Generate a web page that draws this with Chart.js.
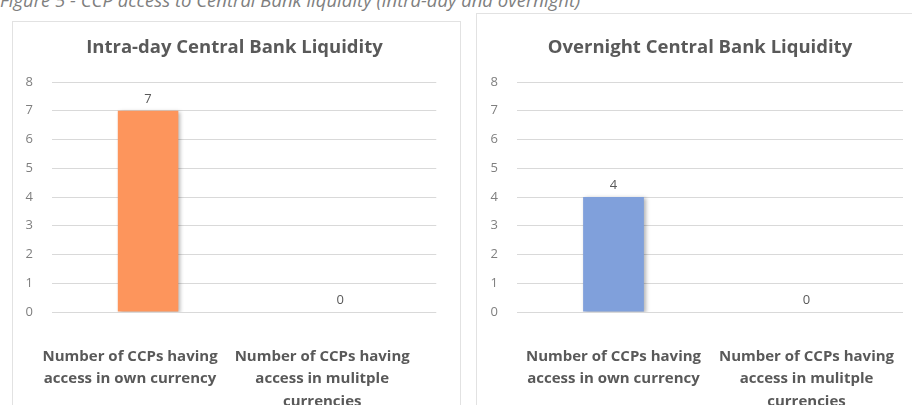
<!DOCTYPE html>
<html>
<head>
<meta charset="utf-8">
<script src="https://cdn.jsdelivr.net/npm/chart.js@4.4.1/dist/chart.umd.min.js"></script>
<style>
    body { margin: 0; background: #fff; width: 912px; height: 405px; overflow: hidden; position: relative; font-family: "Open Sans", sans-serif; }
    .caption { position: absolute; left: 0; top: -13px; font-style: italic; font-size: 18.5px; line-height: 25px; color: #7f7f7f; white-space: nowrap; }
    .panel { position: absolute; border: 1px solid #e2e2e2; background: #fff; }
    #leftPanel { left: 12px; top: 21px; width: 447px; height: 400px; }
    #rightPanel { left: 476px; top: 13px; width: 440px; height: 400px; }
    canvas { position: absolute; }
    #intradayChart { left: 12px; top: 18px; }
    #overnightChart { left: 475px; top: 18px; }
</style>
</head>
<body>
<div class="caption">Figure 5 - CCP access to Central Bank liquidity (intra-day and overnight)</div>
<div class="panel" id="leftPanel"></div>
<div class="panel" id="rightPanel"></div>
<canvas id="intradayChart" width="445" height="387"></canvas>
<canvas id="overnightChart" width="450" height="387"></canvas>
<script>
// categories shared by both panels
const categories = [
    ['Number of CCPs having', 'access in own currency'],
    ['Number of CCPs having', 'access in mulitple', 'currencies']
];
const intradayValues = [7, 0];
const overnightValues = [4, 0];
const yTicks = [0, 1, 2, 3, 4, 5, 6, 7, 8];

const textGrey = '#595959';
const tickGrey = '#7f7f7f';
const gridGrey = '#d9d9d9';

// draws the value above each bar
const valueLabels = {
    id: 'valueLabels',
    afterDatasetsDraw(chart) {
        const ctx = chart.ctx;
        const meta = chart.getDatasetMeta(0);
        ctx.save();
        ctx.font = '13px "Open Sans", sans-serif';
        ctx.fillStyle = textGrey;
        ctx.textAlign = 'center';
        ctx.textBaseline = 'bottom';
        meta.data.forEach((bar, i) => {
            ctx.fillText(chart.data.datasets[0].data[i], bar.x, bar.y - 5);
        });
        ctx.restore();
    }
};

// soft shadow behind the bars, like the original
const barShadow = {
    id: 'barShadow',
    beforeDatasetDraw(chart) {
        const ctx = chart.ctx;
        ctx.save();
        ctx.shadowColor = 'rgba(0,0,0,0.3)';
        ctx.shadowBlur = 4;
        ctx.shadowOffsetX = 2;
        ctx.shadowOffsetY = 1;
    },
    afterDatasetDraw(chart) {
        chart.ctx.restore();
    }
};

// rightGap: empty space right of the plot (keeps the title centred like the original)
function makeChart(id, title, values, color, rightGap, yWidth, labelShift) {
    return new Chart(document.getElementById(id), {
        type: 'bar',
        data: {
            labels: categories,
            datasets: [{
                data: values,
                backgroundColor: color,
                borderWidth: 0,
                barPercentage: 0.315,
                categoryPercentage: 1
            }]
        },
        options: {
            responsive: false,
            animation: false,
            layout: { padding: 0 },
            plugins: {
                legend: { display: false },
                tooltip: { enabled: false },
                title: {
                    display: true,
                    text: title,
                    color: textGrey,
                    font: { family: '"Open Sans", sans-serif', size: 18.5, weight: 'bold', lineHeight: 1.2 },
                    padding: { top: 19, bottom: 22.8 }
                }
            },
            scales: {
                x: {
                    grid: { display: false },
                    border: { display: false },
                    ticks: {
                        color: textGrey,
                        autoSkip: false,
                        maxRotation: 0,
                        padding: 25,
                        labelOffset: labelShift,
                        font: { family: '"Open Sans", sans-serif', size: 15, weight: 'bold', lineHeight: 1.5 }
                    },
                    afterFit(scale) { scale.height = 93; }
                },
                y: {
                    min: 0,
                    max: 8,
                    afterBuildTicks(scale) { scale.ticks = yTicks.map(v => ({ value: v })); },
                    grid: { color: gridGrey, drawTicks: false },
                    border: { display: false },
                    ticks: {
                        color: tickGrey,
                        padding: 19,
                        font: { family: '"Open Sans", sans-serif', size: 13 }
                    },
                    afterFit(scale) { scale.width = yWidth; }
                },
                gap: {
                    position: 'right',
                    min: 0,
                    max: 8,
                    grid: { display: false },
                    border: { display: false },
                    ticks: { display: false },
                    afterFit(scale) { scale.width = rightGap; }
                }
            }
        },
        plugins: [barShadow, valueLabels]
    });
}

makeChart('intradayChart', 'Intra-day Central Bank Liquidity', intradayValues, '#fd955c', 17, 40, -18);
makeChart('overnightChart', 'Overnight Central Bank Liquidity', overnightValues, '#80a0db', 22, 42, 0);
</script>
</body>
</html>
